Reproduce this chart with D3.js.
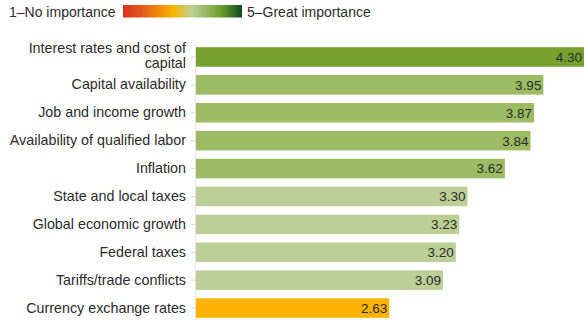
<!DOCTYPE html>
<html>
<head>
<meta charset="utf-8">
<script src="https://cdn.jsdelivr.net/npm/d3@7/dist/d3.min.js"></script>
<style>
  html, body { margin: 0; padding: 0; background: #fff; }
  svg { display: block; font-family: "Liberation Sans", Arial, Helvetica, sans-serif; }
</style>
</head>
<body>
<svg id="chart" width="584" height="320"></svg>
<script>
// Factors ranked by average importance (1 = no importance, 5 = great importance)
const categories = [
  "Interest rates and cost of capital",
  "Capital availability",
  "Job and income growth",
  "Availability of qualified labor",
  "Inflation",
  "State and local taxes",
  "Global economic growth",
  "Federal taxes",
  "Tariffs/trade conflicts",
  "Currency exchange rates"
];
const scores = [4.30, 3.95, 3.87, 3.84, 3.62, 3.30, 3.23, 3.20, 3.09, 2.63];
const legendLabels = ["1\u2013No importance", "5\u2013Great importance"];

const width = 584, height = 320;
const svg = d3.select("#chart");

const x = d3.scaleLinear().domain([0.975, 5]).range([196, 666]);
const y = d3.scaleBand().domain(categories).range([43, 322]).paddingInner(0.3).paddingOuter(0.15);
const x0 = x(x.domain()[0]);

// Banded colours along the 1–5 importance scale
const color = d3.scaleThreshold()
  .domain([1.5, 2, 2.5, 3, 3.5, 4, 4.5])
  .range(["#d9301f", "#e45d14", "#f08c0a", "#fbb300", "#bccf96", "#9cbb63", "#76a12f", "#1f5e20"]);

// Legend
const defs = svg.append("defs");
const grad = defs.append("linearGradient").attr("id", "imp-grad");
[["0%", "#dc2f1f"], ["15%", "#e2561a"], ["42%", "#fcb400"], ["58%", "#bbd096"], ["82%", "#6f9f2d"], ["100%", "#0d4a1e"]]
  .forEach(([o, c]) => grad.append("stop").attr("offset", o).attr("stop-color", c));

svg.append("text").attr("x", 9).attr("y", 16.5)
  .attr("font-size", 14).attr("fill", "#2b2b2b").text(legendLabels[0]);
svg.append("rect").attr("x", 123).attr("y", 5).attr("width", 119).attr("height", 12.5)
  .attr("fill", "url(#imp-grad)");
svg.append("text").attr("x", 247).attr("y", 16.5)
  .attr("font-size", 14).attr("fill", "#2b2b2b").text(legendLabels[1]);

// Bars
const g = svg.append("g");
g.selectAll("rect.bar").data(categories).join("rect")
  .attr("class", "bar")
  .attr("x", x0)
  .attr("y", d => y(d))
  .attr("width", (d, i) => x(scores[i]) - x0)
  .attr("height", y.bandwidth())
  .attr("fill", (d, i) => color(scores[i]));

// Value labels at the bar ends
g.selectAll("text.val").data(categories).join("text")
  .attr("class", "val")
  .attr("x", (d, i) => Math.min(x(scores[i]), width) - 2)
  .attr("y", d => y(d) + y.bandwidth() / 2)
  .attr("dy", "0.36em")
  .attr("text-anchor", "end")
  .attr("font-size", 13.5)
  .attr("fill", "#2b2b2b")
  .text((d, i) => scores[i].toFixed(2));

// Category axis
const axis = svg.append("g")
  .attr("transform", `translate(${x0 - 1},0)`)
  .call(d3.axisLeft(y).tickSize(4).tickPadding(5).tickSizeOuter(0));
axis.select(".domain").attr("stroke", "#e4e4e4");
axis.selectAll(".tick line").attr("stroke", "#d8d8d8");
axis.selectAll(".tick text")
  .attr("font-size", 14.3)
  .attr("fill", "#2b2b2b")
  .attr("font-family", "'Liberation Sans', Arial, Helvetica, sans-serif")
  .each(function(d) {
    if (d === categories[0]) {
      const t = d3.select(this).text(null);
      t.append("tspan").attr("x", -9).attr("dy", "-0.3em").text("Interest rates and cost of");
      t.append("tspan").attr("x", -9).attr("dy", "1.1em").text("capital");
    }
  });
</script>
</body>
</html>
